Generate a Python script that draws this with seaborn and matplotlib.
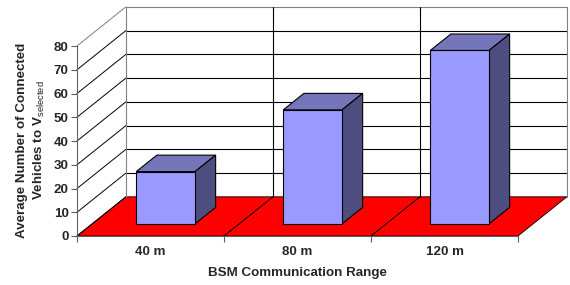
import pandas as pd
import matplotlib
matplotlib.use('Agg')
import matplotlib.pyplot as plt
from matplotlib.patches import Polygon
import seaborn as sns

# Values
ranges = ['40 m', '80 m', '120 m']
connected = [22, 48, 73]
y_ticks = [0, 10, 20, 30, 40, 50, 60, 70, 80]

df = pd.DataFrame({'range': ranges, 'connected': connected})

sns.set_style('white')
plt.rcParams['font.family'] = ['Liberation Sans', 'DejaVu Sans']
plt.rcParams['mathtext.fontset'] = 'custom'
plt.rcParams['mathtext.rm'] = 'Liberation Sans'

# Fake 3D geometry (oblique projection, Excel style)
DX = 0.333      # full depth shift, category units
DY = 16.5       # full depth shift, value units
F1, F2 = 0.31, 0.73   # front / back depth of the bars
BW = 0.4        # bar width
S = F1 * DX     # bars sit at x=0,1,2, so shift everything else
YMAX = 80
n = len(ranges)
FS = 9.6

face_front = '#9999FF'
face_top = '#7575BA'
face_side = '#4D4D80'


def proj(u, v, f):
    return (u + f * DX - S, v + f * DY)


fig = plt.figure(figsize=(5.7, 2.85), dpi=100)
ax = fig.add_axes([77 / 570, 49 / 285, 441 / 570, 190 / 285])

# Floor
floor = [proj(-0.5, 0, 0), proj(n - 0.5, 0, 0), proj(n - 0.5, 0, 1), proj(-0.5, 0, 1)]
ax.add_patch(Polygon(floor, closed=True, facecolor='#FF0000', edgecolor='black',
                     lw=0.6, clip_on=False, zorder=1))
for i in range(1, n):
    p0, p1 = proj(i - 0.5, 0, 0), proj(i - 0.5, 0, 1)
    ax.plot([p0[0], p1[0]], [p0[1], p1[1]], color='black', lw=0.7, clip_on=False, zorder=2)

# Walls: side wall diagonals + back wall gridlines
for t in y_ticks:
    a, b = proj(-0.5, t, 0), proj(-0.5, t, 1)
    c = proj(n - 0.5, t, 1)
    col = 'black' if t not in (0, YMAX) else '#808080'
    ax.plot([a[0], b[0]], [a[1], b[1]], color='black' if t != YMAX else '#808080',
            lw=0.7, clip_on=False, zorder=2)
    if t > 0:
        ax.plot([b[0], c[0]], [b[1], c[1]], color=col, lw=0.8, clip_on=False, zorder=2)
for i in range(n + 1):
    b0, b1 = proj(i - 0.5, 0, 1), proj(i - 0.5, YMAX, 1)
    col = '#808080' if i in (0, n) else 'black'
    ax.plot([b0[0], b1[0]], [b0[1], b1[1]], color=col, lw=0.8, clip_on=False, zorder=2)

# Bars: top and side faces drawn by hand, front faces by seaborn
for i, v in enumerate(connected):
    top = [proj(i - BW / 2, v, F1), proj(i + BW / 2, v, F1),
           proj(i + BW / 2, v, F2), proj(i - BW / 2, v, F2)]
    side = [proj(i + BW / 2, 0, F1), proj(i + BW / 2, v, F1),
            proj(i + BW / 2, v, F2), proj(i + BW / 2, 0, F2)]
    ax.add_patch(Polygon(top, closed=True, facecolor=face_top, edgecolor='black',
                         lw=0.8, clip_on=False, zorder=3))
    ax.add_patch(Polygon(side, closed=True, facecolor=face_side, edgecolor='black',
                         lw=0.8, clip_on=False, zorder=3))

sns.barplot(data=df, x='range', y='connected', ax=ax, color=face_front,
            saturation=1, width=BW, bottom=F1 * DY, edgecolor='black',
            linewidth=0.8, zorder=4)
for p in ax.patches:
    p.set_clip_on(False)

ax.set_xlim(-0.5 - S, n - 0.5 - S)
ax.set_ylim(0, YMAX)

# Axes, ticks and labels
ax.set_yticks(y_ticks)
ax.set_xticks([i - S for i in range(n)])
ax.set_xticklabels(ranges)
ax.set_xticks([i - 0.5 - S for i in range(n + 1)], minor=True)
ax.tick_params(axis='x', which='major', length=0, pad=7, labelsize=FS)
ax.tick_params(axis='x', which='minor', length=4, width=0.8, color='#606060', direction='out', bottom=True)
ax.tick_params(axis='y', length=4, width=0.8, color='#606060', pad=2, labelsize=FS, left=True)
for lab in ax.get_xticklabels() + ax.get_yticklabels():
    lab.set_fontweight('bold')

for side in ['top', 'right']:
    ax.spines[side].set_visible(False)
ax.spines['left'].set_color('#606060')
ax.spines['bottom'].set_color('#606060')
ax.spines['left'].set_linewidth(0.8)
ax.spines['bottom'].set_linewidth(0.8)
ax.spines['left'].set_zorder(5)

ax.set_xlabel('BSM Communication Range', fontsize=FS, fontweight='bold')
ax.set_ylabel('Average Number of Connected\nVehicles to V$_{\\mathrm{selected}}$',
              fontsize=FS, fontweight='bold', linespacing=1.4)
ax.xaxis.label.set_va('center')
ax.xaxis.set_label_coords(0.5, -0.195)
ax.yaxis.label.set_va('center')
ax.yaxis.set_label_coords(-0.103, 0.505)

fig.savefig('out.png', dpi=100)
